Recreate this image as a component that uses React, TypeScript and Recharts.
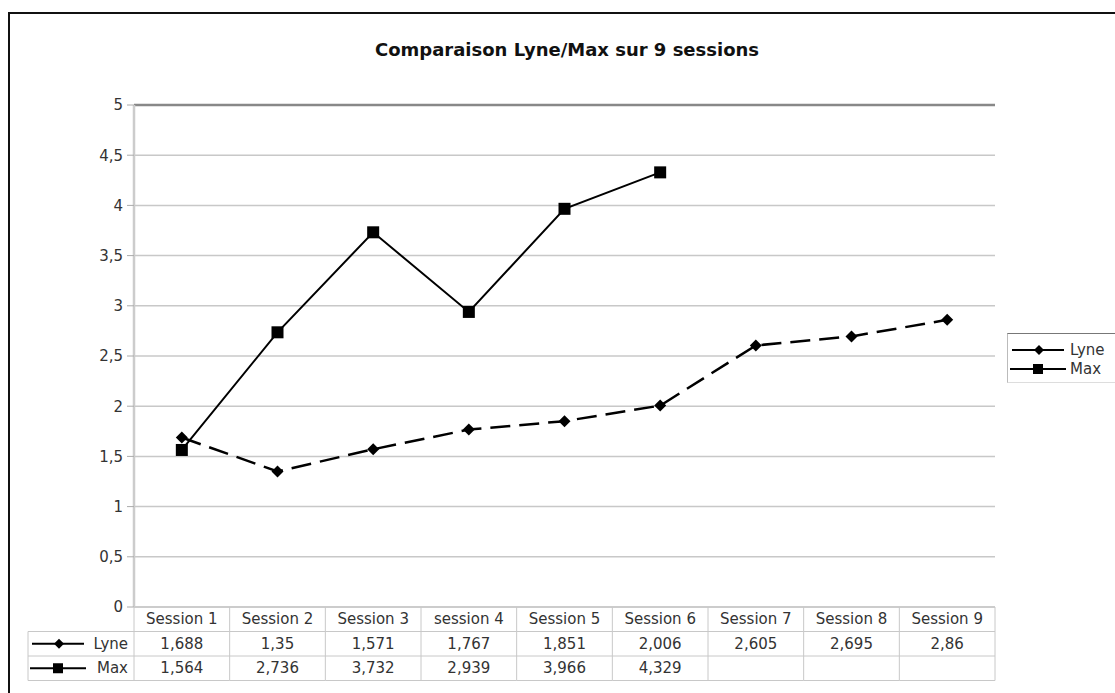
import { CartesianGrid, Line, LineChart, ReferenceLine, XAxis, YAxis } from "recharts";

const sessions = ["Session 1", "Session 2", "Session 3", "session 4", "Session 5", "Session 6", "Session 7", "Session 8", "Session 9"];
const lyne = [1.688, 1.35, 1.571, 1.767, 1.851, 2.006, 2.605, 2.695, 2.86];
const max: (number | null)[] = [1.564, 2.736, 3.732, 2.939, 3.966, 4.329, null, null, null];
const yTicks = [0, 0.5, 1, 1.5, 2, 2.5, 3, 3.5, 4, 4.5, 5];

const data = sessions.map((session, i) => ({ session, Lyne: lyne[i], Max: max[i] }));

const FONT = "'DejaVu Sans', Verdana, sans-serif";
const FS = 15;
const PLOT_LEFT = 134;
const PLOT_RIGHT = 995;
const PLOT_TOP = 105;
const PLOT_BOTTOM = 607;
const COL_W = (PLOT_RIGHT - PLOT_LEFT) / sessions.length;
const ROW_H = 24.5;
const GRID = "#c8c8c8";
const TEXT = "#333";

const fmt = (v: number | null) => (v == null ? "" : String(v).replace(".", ","));

function Diamond({ cx, cy, r = 5 }: { cx: number; cy: number; r?: number }) {
  return <polygon points={`${cx},${cy - r} ${cx + r},${cy} ${cx},${cy + r} ${cx - r},${cy}`} fill="#000" />;
}

function Square({ cx, cy, s = 11 }: { cx: number; cy: number; s?: number }) {
  return <rect x={cx - s / 2} y={cy - s / 2} width={s} height={s} fill="#000" />;
}

function LegendKey({ x, y, kind }: { x: number; y: number; kind: "lyne" | "max" }) {
  return (
    <g>
      {kind === "lyne" ? (
        <>
          <line x1={x} y1={y} x2={x + 52} y2={y} stroke="#000" strokeWidth={2} />
          <Diamond cx={x + 27} cy={y} r={5} />
        </>
      ) : (
        <>
          <line x1={x} y1={y} x2={x + 56} y2={y} stroke="#000" strokeWidth={2} />
          <Square cx={x + 28} cy={y} s={10} />
        </>
      )}
    </g>
  );
}

function TableTick(props: any) {
  const { x, y, payload } = props;
  const i = payload.index;
  const left = x - COL_W / 2;
  const right = x + COL_W / 2;
  const r1 = y + ROW_H;
  const r2 = y + ROW_H * 2;
  const r3 = y + ROW_H * 3;
  const base = ROW_H / 2 + 5;
  return (
    <g fontFamily={FONT} fontSize={FS} fill={TEXT}>
      {i === 0 && (
        <g>
          <line x1={left} y1={y} x2={left} y2={r3} stroke={GRID} />
          <line x1={28} y1={r1} x2={left} y2={r1} stroke={GRID} />
          <line x1={28} y1={r2} x2={left} y2={r2} stroke={GRID} />
          <line x1={28} y1={r3} x2={left} y2={r3} stroke={GRID} />
          <line x1={28} y1={r1} x2={28} y2={r3} stroke={GRID} />
          <LegendKey x={32} y={r1 + ROW_H / 2} kind="lyne" />
          <LegendKey x={30} y={r2 + ROW_H / 2} kind="max" />
          <text x={128} y={r1 + base} textAnchor="end">Lyne</text>
          <text x={128} y={r2 + base} textAnchor="end">Max</text>
        </g>
      )}
      <line x1={right} y1={y} x2={right} y2={r3} stroke={GRID} />
      <line x1={left} y1={r1} x2={right} y2={r1} stroke={GRID} />
      <line x1={left} y1={r2} x2={right} y2={r2} stroke={GRID} />
      <line x1={left} y1={r3} x2={right} y2={r3} stroke={GRID} />
      <text x={x} y={y + base} textAnchor="middle">{payload.value}</text>
      <text x={x} y={r1 + base} textAnchor="middle">{fmt(lyne[i])}</text>
      <text x={x} y={r2 + base} textAnchor="middle">{fmt(max[i])}</text>
    </g>
  );
}

const lyneDot = (p: any) =>
  p.cx == null || p.cy == null || p.value == null ? <g key={`l${p.index}`} /> : <Diamond key={`l${p.index}`} cx={p.cx} cy={p.cy} r={6} />;
const maxDot = (p: any) =>
  p.cx == null || p.cy == null || p.value == null ? <g key={`m${p.index}`} /> : <Square key={`m${p.index}`} cx={p.cx} cy={p.cy} s={12} />;

export default function App() {
  const W = 1115;
  const H = 693;
  const yAxisW = 40;
  const xAxisH = ROW_H * 3;
  return (
    <div style={{ position: "absolute", left: 0, top: 0, width: W, height: H, overflow: "hidden", background: "#fff", fontFamily: FONT }}>
      <div style={{ position: "absolute", left: 8, top: 12, width: W + 20, height: H + 20, border: "2px solid #111", boxSizing: "border-box" }} />
      <div style={{ position: "absolute", left: 0, top: 39, width: 1134, textAlign: "center", fontWeight: "bold", fontSize: 18, color: "#111" }}>
        Comparaison Lyne/Max sur 9 sessions
      </div>
      <div style={{ position: "absolute", left: 0, top: 0 }}>
        <LineChart
          width={W}
          height={H}
          data={data}
          margin={{ top: PLOT_TOP, right: W - PLOT_RIGHT, bottom: H - PLOT_BOTTOM - xAxisH, left: PLOT_LEFT - yAxisW }}
        >
          <CartesianGrid vertical={false} stroke={GRID} strokeWidth={1.5} />
          <XAxis
            dataKey="session"
            height={xAxisH}
            padding={{ left: COL_W / 2, right: COL_W / 2 }}
            tickLine={false}
            tickSize={0}
            tickMargin={0}
            axisLine={{ stroke: GRID, strokeWidth: 1.5 }}
            tick={<TableTick />}
            interval={0}
          />
          <YAxis
            width={yAxisW}
            domain={[0, 5]}
            ticks={yTicks}
            tickFormatter={(v: number) => fmt(v)}
            tickSize={7}
            tickMargin={4}
            tickLine={{ stroke: "#aaa" }}
            axisLine={{ stroke: "#ccc", strokeWidth: 2.5 }}
            tick={{ fill: TEXT, fontSize: FS, fontFamily: FONT }}
          />
          <YAxis
            yAxisId="right"
            orientation="right"
            width={0}
            domain={[0, 5]}
            tick={false}
            tickLine={false}
            axisLine={{ stroke: "#ccc", strokeWidth: 2.5 }}
          />
          <ReferenceLine y={5} stroke="#888" strokeWidth={2.5} />
          <Line
            dataKey="Lyne"
            stroke="#000"
            strokeWidth={2.5}
            strokeDasharray="20 9"
            dot={lyneDot}
            activeDot={false}
            isAnimationActive={false}
          />
          <Line
            dataKey="Max"
            stroke="#000"
            strokeWidth={2}
            dot={maxDot}
            activeDot={false}
            connectNulls={false}
            isAnimationActive={false}
          />
        </LineChart>
      </div>
      <div style={{ position: "absolute", left: 1007, top: 333, width: 140, height: 48, borderTop: "1.5px solid #777", borderLeft: "1px solid #bbb", borderBottom: "1px solid #ddd" }}>
        <svg width={110} height={48} style={{ position: "absolute", left: 0, top: 0 }}>
          <LegendKey x={4} y={16} kind="lyne" />
          <LegendKey x={2} y={35} kind="max" />
          <text x={62} y={21} fontFamily={FONT} fontSize={FS} fill={TEXT}>Lyne</text>
          <text x={62} y={40} fontFamily={FONT} fontSize={FS} fill={TEXT}>Max</text>
        </svg>
      </div>
    </div>
  );
}
